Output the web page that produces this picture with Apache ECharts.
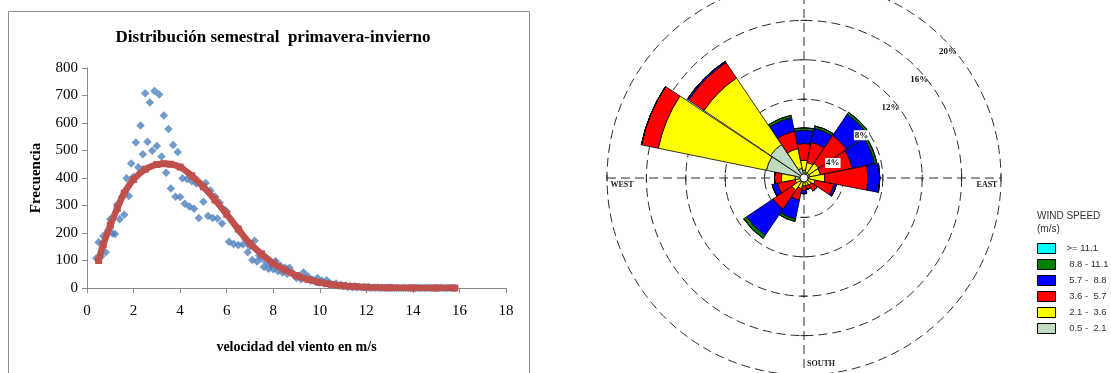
<!DOCTYPE html>
<html>
<head>
<meta charset="utf-8">
<script src="https://cdn.jsdelivr.net/npm/echarts@6/dist/echarts.min.js"></script>
<style>
  html, body { margin: 0; padding: 0; background: #ffffff; }
  #chart { width: 1111px; height: 373px; }
</style>
</head>
<body>
<div id="chart"></div>
<script>
// ---------- Frequency distribution of wind speed (spring-winter half year) ----------
const windSpeed = [
  0.4,0.5,0.6,0.7,0.8,0.9,1.0,1.1,1.2,1.3,
  1.4,1.5,1.6,1.7,1.8,1.9,2.0,2.1,2.2,2.3,
  2.4,2.5,2.6,2.7,2.8,2.9,3.0,3.1,3.2,3.3,
  3.4,3.5,3.6,3.7,3.8,3.9,4.0,4.1,4.2,4.3,
  4.4,4.5,4.6,4.7,4.8,4.9,5.0,5.1,5.2,5.3,
  5.4,5.5,5.6,5.7,5.8,5.9,6.0,6.1,6.2,6.3,
  6.4,6.5,6.6,6.7,6.8,6.9,7.0,7.1,7.2,7.3,
  7.4,7.5,7.6,7.7,7.8,7.9,8.0,8.1,8.2,8.3,
  8.4,8.5,8.6,8.7,8.8,8.9,9.0,9.1,9.2,9.3,
  9.4,9.5,9.6,9.7,9.8,9.9,10.0,10.1,10.2,10.3,
  10.4,10.5,10.6,10.7,10.8,10.9,11.0,11.1,11.2,11.3,
  11.4,11.5,11.6,11.7,11.8,11.9,12.0,12.1,12.2,12.3,
  12.4,12.5,12.6,12.7,12.8,12.9,13.0,13.1,13.2,13.3,
  13.4,13.5,13.6,13.7,13.8,13.9,14.0,14.1,14.2,14.3,
  14.4,14.5,14.6,14.7,14.8,14.9,15.0,15.1,15.2,15.3,
  15.4,15.5,15.6,15.7,15.8
];
const observedFreq = [
  108,166,114,189,130,208,250,198,196,304,
  250,332,266,399,335,453,405,529,439,591,
  486,708,532,675,499,716,516,704,478,627,
  419,578,362,520,332,495,331,399,306,396,
  296,388,288,380,255,375,314,382,262,355,
  255,333,253,310,235,285,278,168,248,160,
  225,156,200,158,178,130,152,102,172,96,
  118,108,76,95,70,84,68,98,62,82,
  56,74,52,74,58,46,36,44,32,56,
  36,42,26,30,24,36,20,26,16,28,
  18,14,10,16,8,12,6,9,4,7,
  3,6,2,5,2,4,1,3,1,2,
  1,2,0,1,0,1,0,1,0,1,
  0,0,1,0,0,1,0,0,1,0,
  0,0,0,1,0,0,0,0,1,0,
  0,0,1,0,0
];
// fitted distribution curve
const fitSpeed = [0.5,0.7,1.0,1.3,1.6,2.0,2.5,3.0,3.3,3.6,4.0,4.5,5.0,5.5,6.0,6.5,7.0,7.5,8.0,8.5,9.0,9.5,10.0,10.5,11.0,11.5,12.0,13.0,14.0,15.0,15.8];
const fitFreq  = [100,158,228,290,345,395,432,449,452,450,440,408,368,320,268,214,162,124,90,66,45,31,20,13,8,5,3,1,0,0,0];

const speedAxis = { min: 0, max: 18, interval: 2 };
const freqAxis  = { min: 0, max: 800, interval: 100 };

// ---------- Wind rose (% of time by direction and speed class) ----------
const directions = ['N','NNE','NE','ENE','E','ESE','SE','SSE','S','SSW','SW','WSW','W','WNW','NW','NNW'];
const speedClasses = [' 0.5 -  2.1', ' 2.1 -  3.6', ' 3.6 -  5.7', ' 5.7 -  8.8', ' 8.8 - 11.1', '>= 11.1'];
const pct_05_21  = [0.8,0.6,0.6,0.6,0.5,0.4,0.3,0.3,0.3,0.4,0.5,0.3,0.9,3.9,4.1,1.0];
const pct_21_36  = [1.0,1.0,1.2,1.1,1.6,0.75,0.6,0.5,0.5,0.7,1.0,0.6,1.4,11.2,8.15,2.05];
const pct_36_57  = [1.7,2.1,3.4,3.3,4.4,1.95,0.7,0.4,0.5,1.2,2.3,1.85,0.7,1.75,1.9,1.8];
const pct_57_88  = [1.35,1.45,2.6,2.3,1.2,0.25,0,0,0.3,1.95,3.25,0.55,0,0,0.15,1.4];
const pct_88_111 = [0.25,0.25,0.25,0.25,0,0,0,0,0,0.25,0.35,0,0,0,0,0.25];
const pct_ge_111 = [0,0,0,0,0,0,0,0,0,0,0,0,0,0,0,0];
const ringValues = [4, 8, 12, 16, 20];

// ---------- layout & styling ----------
const SERIF = "'Liberation Serif', 'Times New Roman', serif";
const SANS = "'Liberation Sans', Arial, sans-serif";
const ROSE = { cx: 804, cy: 178, r: 197, max: 20 };
const classColors = ['#c0dcc0', '#ffff00', '#ff0000', '#0000ff', '#008000', '#00ffff'];
const classData = [pct_05_21, pct_21_36, pct_36_57, pct_57_88, pct_88_111, pct_ge_111];
const DASH = [9, 5];
const DASH_COLOR = '#2b2b2b';

const chart = echarts.init(document.getElementById('chart'), null, { renderer: 'canvas' });

const rr = v => ROSE.r * v / ROSE.max;

// dashed compass cross, ring ticks, centre hole and labels of the rose
const roseGraphics = [];
roseGraphics.push({
  type: 'line', z: 1,
  shape: { x1: ROSE.cx - ROSE.r, y1: ROSE.cy, x2: ROSE.cx + ROSE.r, y2: ROSE.cy },
  style: { stroke: DASH_COLOR, lineWidth: 1, lineDash: DASH }
});
roseGraphics.push({
  type: 'line', z: 1,
  shape: { x1: ROSE.cx, y1: ROSE.cy - ROSE.r, x2: ROSE.cx, y2: ROSE.cy + ROSE.r },
  style: { stroke: DASH_COLOR, lineWidth: 1, lineDash: DASH }
});
ringValues.forEach(v => {
  const d = rr(v);
  [-1, 1].forEach(sx => roseGraphics.push({
    type: 'line', z: 1,
    shape: { x1: ROSE.cx + sx * d, y1: ROSE.cy - 3.5, x2: ROSE.cx + sx * d, y2: ROSE.cy + 3.5 },
    style: { stroke: DASH_COLOR, lineWidth: 1 }
  }));
  [-1, 1].forEach(sy => roseGraphics.push({
    type: 'line', z: 1,
    shape: { x1: ROSE.cx - 3.5, y1: ROSE.cy + sy * d, x2: ROSE.cx + 3.5, y2: ROSE.cy + sy * d },
    style: { stroke: DASH_COLOR, lineWidth: 1 }
  }));
  roseGraphics.push({
    type: 'text', z: 100,
    x: ROSE.cx + 7.2 * v, y: ROSE.cy + 12.8 - 6.95 * v,
    style: {
      text: v + '%', font: 'bold 9px ' + SERIF, fill: '#111',
      align: 'center', verticalAlign: 'middle',
      backgroundColor: v <= 8 ? '#ffffff' : 'transparent',
      padding: v <= 8 ? [1, 1, 0, 1] : 0
    }
  });
});
roseGraphics.push({
  type: 'circle', z: 100,
  shape: { cx: ROSE.cx, cy: ROSE.cy, r: 4 },
  style: { fill: '#ffffff', stroke: '#000', lineWidth: 0.8 }
});
[['WEST', ROSE.cx - ROSE.r + 15, ROSE.cy + 7],
 ['EAST', ROSE.cx + ROSE.r - 14, ROSE.cy + 7],
 ['SOUTH', ROSE.cx + 17, ROSE.cy + ROSE.r - 11]].forEach(([t, x, y]) => roseGraphics.push({
  type: 'text', z: 100, x: x, y: y,
  style: { text: t, font: 'bold 8px ' + SERIF, fill: '#222', align: 'center', verticalAlign: 'middle' }
}));
roseGraphics.push({
  type: 'text', z: 100, x: 1037, y: 216.5,
  style: { text: 'WIND SPEED', font: '10px ' + SANS, fill: '#333', align: 'left', verticalAlign: 'middle' }
});
roseGraphics.push({
  type: 'text', z: 100, x: 1037, y: 229.5,
  style: { text: '(m/s)', font: '10px ' + SANS, fill: '#333', align: 'left', verticalAlign: 'middle' }
});

const option = {
  animation: false,
  backgroundColor: '#ffffff',
  title: {
    text: 'Distribución semestral  primavera-invierno',
    left: 268, top: 24, textAlign: 'center',
    textStyle: { fontFamily: SERIF, fontWeight: 'bold', fontSize: 17, color: '#000' }
  },
  grid: { left: 87, top: 68, width: 419, height: 220 },
  xAxis: {
    type: 'value', min: speedAxis.min, max: speedAxis.max, interval: speedAxis.interval,
    name: 'velocidad del viento en m/s', nameLocation: 'middle', nameGap: 52,
    nameTextStyle: { fontFamily: SERIF, fontWeight: 'bold', fontSize: 14, color: '#000' },
    axisLine: { show: true, lineStyle: { color: '#8a8a8a', width: 1 } },
    axisTick: { show: true, length: 5, lineStyle: { color: '#8a8a8a' } },
    axisLabel: { fontFamily: SERIF, fontSize: 15, color: '#000', margin: 16 },
    splitLine: { show: false }
  },
  yAxis: {
    type: 'value', min: freqAxis.min, max: freqAxis.max, interval: freqAxis.interval,
    name: 'Frecuencia', nameLocation: 'middle', nameGap: 43, nameRotate: 90,
    nameTextStyle: { fontFamily: SERIF, fontWeight: 'bold', fontSize: 15, color: '#000' },
    axisLine: { show: true, lineStyle: { color: '#8a8a8a', width: 1 } },
    axisTick: { show: true, length: 5, lineStyle: { color: '#8a8a8a' } },
    axisLabel: { fontFamily: SERIF, fontSize: 15, color: '#000', margin: 9 },
    splitLine: { show: false }
  },
  polar: { center: [ROSE.cx, ROSE.cy], radius: [0, ROSE.r] },
  angleAxis: {
    type: 'category', data: directions, startAngle: 90 + 360 / directions.length / 2, clockwise: true,
    axisLine: { show: false }, axisTick: { show: false }, axisLabel: { show: false },
    splitLine: { show: false }
  },
  radiusAxis: {
    type: 'value', min: 0, max: ROSE.max, interval: 4,
    axisLine: { show: false }, axisTick: { show: false }, axisLabel: { show: false },
    splitLine: { show: true, lineStyle: { color: DASH_COLOR, width: 1, type: DASH } }
  },
  legend: {
    orient: 'vertical', left: 1037, top: 243, padding: 0,
    itemWidth: 18, itemHeight: 10, itemGap: 5, icon: 'rect',
    selectedMode: false,
    data: speedClasses.slice().reverse(),
    itemStyle: { borderColor: '#000', borderWidth: 1 },
    textStyle: { fontFamily: SANS, fontSize: 9.5, color: '#333', padding: [0, 0, 0, 6], lineHeight: 10 }
  },
  graphic: [
    {
      type: 'rect', z: 0,
      shape: { x: 8.5, y: 11.5, width: 521, height: 400 },
      style: { fill: 'none', stroke: '#8e8e8e', lineWidth: 1 }
    },
    ...roseGraphics
  ],
  series: [
    {
      name: 'observada', type: 'scatter', z: 3,
      data: windSpeed.map((s, i) => [s, observedFreq[i]]),
      symbol: 'diamond', symbolSize: 8.5,
      itemStyle: { color: '#4f81bd' }
    },
    {
      name: 'ajuste', type: 'line', z: 4, smooth: 0.35,
      data: fitSpeed.map((s, i) => [s, fitFreq[i]]),
      symbol: 'rect', symbolSize: 7, showSymbol: true, showAllSymbol: true,
      itemStyle: { color: '#c0504d' },
      lineStyle: { color: '#c0504d', width: 6.5 }
    },
    ...speedClasses.map((name, k) => ({
      name: name, type: 'bar', coordinateSystem: 'polar', stack: 'rose',
      data: classData[k], barCategoryGap: '2.5%',
      itemStyle: { color: classColors[k], borderColor: '#000', borderWidth: 0.8 }
    }))
  ]
};

chart.setOption(option);
</script>
</body>
</html>
